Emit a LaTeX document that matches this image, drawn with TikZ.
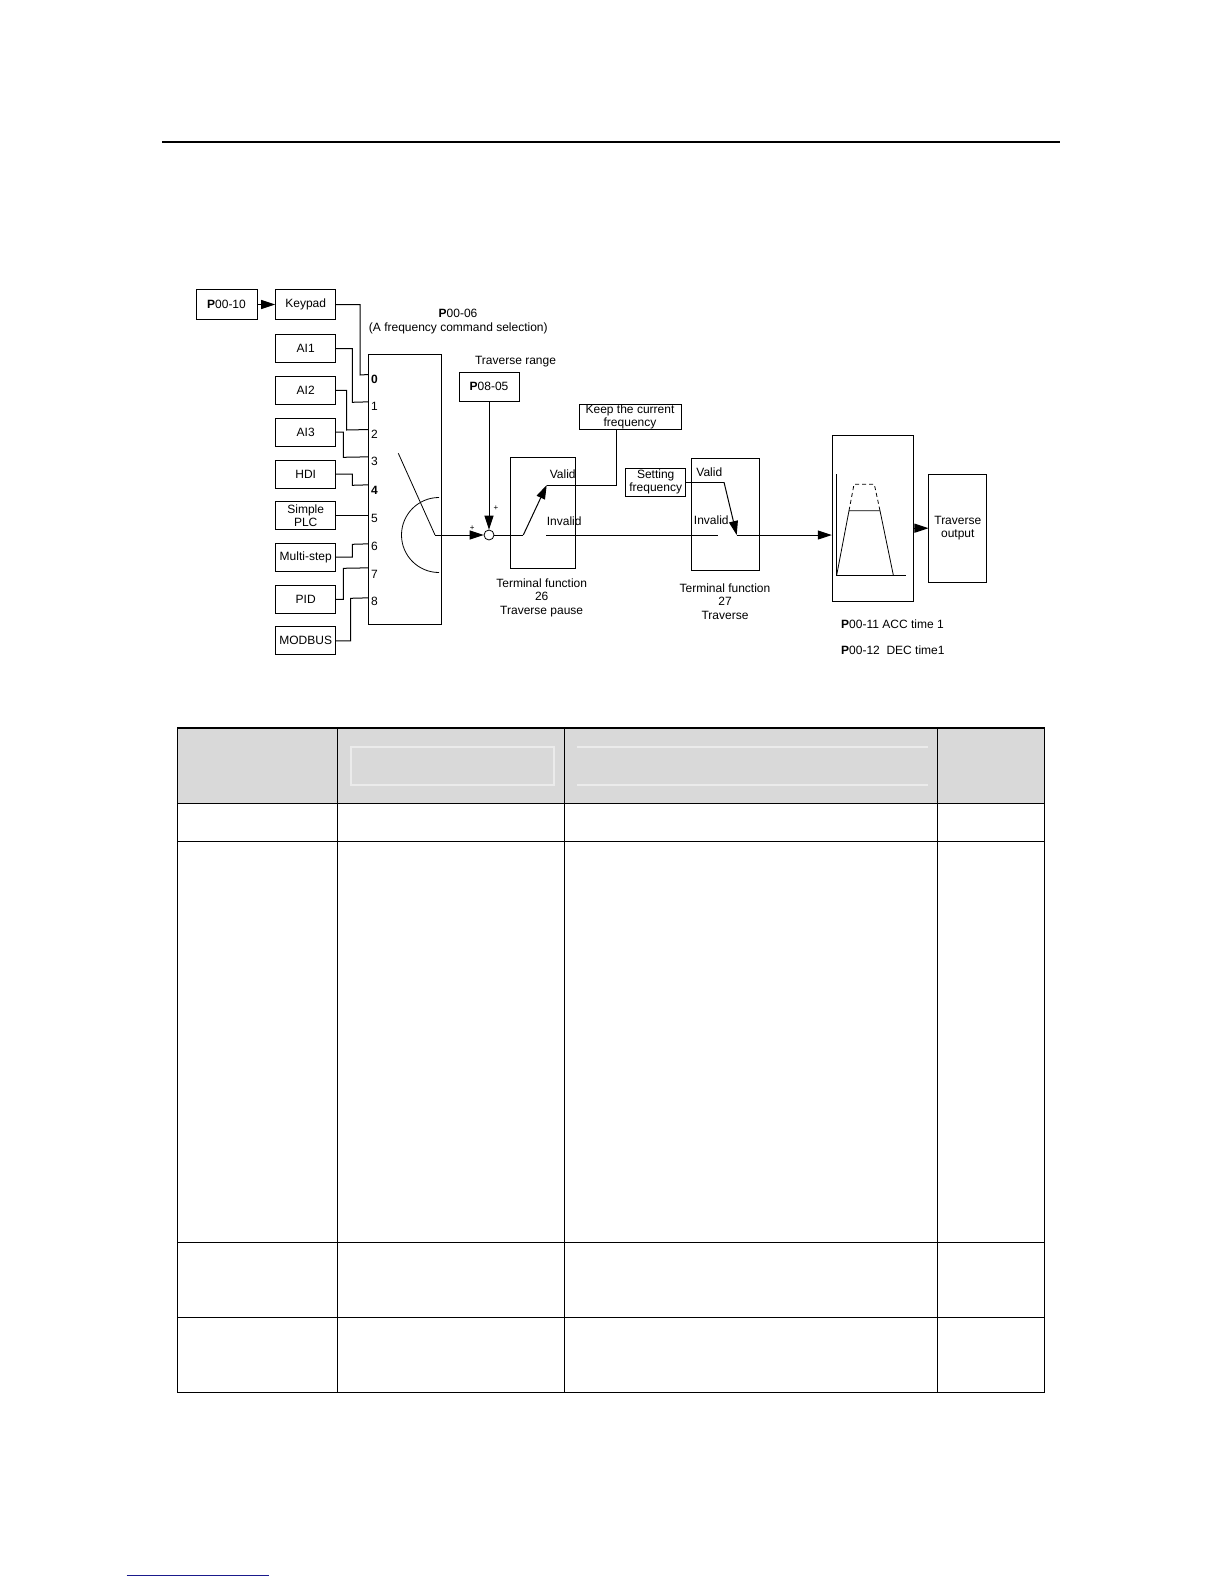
\documentclass[tikz,border=0pt]{standalone}
\usepackage{fontspec}
\setmainfont{Liberation Sans}
\usetikzlibrary{arrows.meta,calc}
\definecolor{hdrgray}{HTML}{D9D9D9}
\definecolor{hdrline}{HTML}{EBEBEB}
\definecolor{linkblue}{HTML}{1A1A8C}
\tikzset{
  lbl/.style={inner sep=0pt, font=\fontsize{12}{13.6}\selectfont, align=center},
  blk/.style={draw, line width=1pt, inner sep=0pt, font=\fontsize{12}{13.6}\selectfont, align=center},
  wire/.style={line width=1pt},
  arr/.style={line width=1pt, -{Triangle[length=14pt,width=9pt]}},
  tline/.style={line width=1.3pt},
}
\begin{document}
\begin{tikzpicture}[x=1pt,y=-1pt]
\useasboundingbox (0,0) rectangle (1224,1584);
\fill[white] (0,0) rectangle (1224,1584);

% top rule
\coordinate (rl) at (162,142);
\coordinate (rr) at (1060,142);
\draw[line width=2pt] (rl) -- (rr);

% ---------- source boxes ----------
\node[blk, minimum width=61, minimum height=30] (p0010) at (226.5,304.5) {\textbf{P}00-10};
\node[blk, minimum width=60, minimum height=30] (keypad) at (305.7,304.5) {Keypad};
\node[blk, minimum width=60, minimum height=28] (ai1) at (305.7,348.7) {AI1};
\node[blk, minimum width=60, minimum height=28] (ai2) at (305.7,390.3) {AI2};
\node[blk, minimum width=60, minimum height=28] (ai3) at (305.7,432) {AI3};
\node[blk, minimum width=60, minimum height=28] (hdi) at (305.7,474.2) {HDI};
\node[blk, minimum width=60, minimum height=28, font=\fontsize{12}{13}\selectfont] (plc) at (305.7,515.8) {Simple\\PLC};
\node[blk, minimum width=60, minimum height=28] (multi) at (305.7,557.2) {Multi-step};
\node[blk, minimum width=60, minimum height=28] (pid) at (305.7,599.3) {PID};
\node[blk, minimum width=60, minimum height=28] (modbus) at (305.7,640.8) {MODBUS};

\draw[arr] (p0010) -- (keypad);

% ---------- selector ----------
\node[blk, minimum width=72.7, minimum height=270.3] (sel) at (404.7,489.2) {};
\node[lbl] (t0606) at (458,313.3) {\textbf{P}00-06};
\node[lbl] (tsel) at (458.3,328.3) {(A frequency command selection)};

\path (sel.north west) ++(0,21)    coordinate (s0);
\path (sel.north west) ++(0,48.3)  coordinate (s1);
\path (sel.north west) ++(0,76)    coordinate (s2);
\path (sel.north west) ++(0,103.3) coordinate (s3);
\path (sel.north west) ++(0,131.3) coordinate (s4);
\path (sel.north west) ++(0,190.3) coordinate (s6);
\path (sel.north west) ++(0,214.3) coordinate (s7);
\path (sel.north west) ++(0,244.3) coordinate (s8);

\draw[wire] (keypad.east) -| (360,375) -- (s0);
\draw[wire] (ai1.east) -| (352.3,402.3) -- (s1);
\draw[wire] (ai2.east) -| (346.7,430) -- (s2);
\draw[wire] (ai3.east) -| (343.3,457.3) -- (s3);
\draw[wire] (hdi.east) -| (352.3,485.3) -- (s4);
\draw[wire] (plc.east) -- (plc.east -| sel.west);
\draw[wire] (multi.east) -| (352.3,544.3) -- (s6);
\draw[wire] (pid.east) -| (343.3,568.3) -- (s7);
\draw[wire] (modbus.east) -| (350.7,598.3) -- (s8);

\node[lbl, anchor=west] (n0) at (371,379) {\textbf{0}};
\node[lbl, anchor=west] (n1) at (371,406.7) {1};
\node[lbl, anchor=west] (n2) at (371,434) {2};
\node[lbl, anchor=west] (n3) at (371,461.7) {3};
\node[lbl, anchor=west] (n4) at (371,490) {\textbf{4}};
\node[lbl, anchor=west] (n5) at (371,518) {5};
\node[lbl, anchor=west] (n6) at (371,546) {6};
\node[lbl, anchor=west] (n7) at (371,574) {7};
\node[lbl, anchor=west] (n8) at (371,601.7) {8};

% switch
\coordinate (swtop) at (398.3,453.3);
\coordinate (pivot) at (435,535);
\draw[line width=0.8pt] (swtop) -- (pivot);
\draw[line width=0.8pt] (439,572.5) arc[start angle=90, end angle=270, radius=37.5];

% summing point
\node[circle, draw, line width=0.8pt, minimum size=10pt, inner sep=0pt] (sum) at (489,535) {};
\node[blk, minimum width=60, minimum height=28.7] (p0805) at (489,386.7) {\textbf{P}08-05};
\node[lbl] (trange) at (515.5,361.7) {Traverse range};
\draw[arr] (pivot) -- (sum.west);
\draw[arr] (p0805.south) -- (sum.north);
\node[inner sep=0pt, font=\fontsize{8}{8}\selectfont] (plus1) at (472.3,528.3) {+};
\node[inner sep=0pt, font=\fontsize{8}{8}\selectfont] (plus2) at (496,508.3) {+};

% terminal 26
\node[blk, minimum width=65, minimum height=111] (t26) at (542.5,512.8) {};
\node[blk, minimum width=102, minimum height=25.3, font=\fontsize{12}{12.7}\selectfont] (keep) at (630,416.7) {Keep the current\\frequency};
\coordinate (k26) at (523.3,535);
\coordinate (v26) at (546.7,485);
\coordinate (i26) at (546,535);
\draw[wire] (sum.east) -- (k26);
\draw[arr] (k26) -- (v26);
\draw[wire] (v26) -| ($(keep.south west)+(37.7,0)$);
\node[lbl] (valid26) at (562.7,474) {Valid};
\node[lbl] (inv26) at (564.2,521.7) {Invalid};
\node[lbl] (cap26) at (541.7,597.5) {Terminal function\\26\\Traverse pause};

% terminal 27
\node[blk, minimum width=68.3, minimum height=111.7] (t27) at (725.2,514.2) {};
\node[blk, minimum width=60, minimum height=27.7, font=\fontsize{12}{13}\selectfont] (setf) at (655.7,482.2) {Setting\\frequency};
\coordinate (e27) at (717.7,535);
\coordinate (b27) at (724,482.2);
\coordinate (o27) at (736.7,535);
\draw[wire] (i26) -- (e27);
\draw[wire] (setf.east) -- (b27);
\draw[arr] (b27) -- (o27);
\node[lbl] (valid27) at (709.3,472.3) {Valid};
\node[lbl] (inv27) at (711.3,520) {Invalid};
\node[lbl] (cap27) at (725,601.7) {Terminal function\\27\\Traverse};

% ramp block
\node[blk, minimum width=81, minimum height=165.7] (ramp) at (872.8,518.8) {};
\node[blk, minimum width=57.7, minimum height=108.3, font=\fontsize{12}{13}\selectfont] (out) at (957.8,528.2) {Traverse\\output};
\draw[arr] (o27) -- (o27 -| ramp.west);
\draw[arr] (ramp.east |- out.west) -- (out.west);

% ramp graph
\draw[line width=0.8pt] (836.7,474.3) -- (836.7,575) -- (906,575);
\draw[line width=0.8pt] (836.7,575) -- (849,510.7) -- (880,510.7) -- (893.3,575);
\draw[line width=0.8pt, dashed, dash pattern=on 4pt off 3pt] (849,510.7) -- (854,484.3) -- (874.3,484.3) -- (880,510.7);

\node[lbl, anchor=west] (acc) at (841,624) {\textbf{P}00-11 ACC time 1};
\node[lbl, anchor=west] (dec) at (841,650.7) {\textbf{P}00-12\ \ DEC time1};

% ---------- table ----------
\coordinate (tnw) at (177.5,728.1);
\coordinate (tse) at (1044.3,1392.7);
\fill[hdrgray] (177.5,728.1) rectangle (1044.3,803.6);
\draw[hdrline, line width=1.2pt] (351,747) rectangle (554,785);
\draw[hdrline, line width=1.2pt] (577,747) -- (928,747);
\draw[hdrline, line width=1.2pt] (577,785) -- (928,785);
\draw[tline] (tnw) rectangle (tse);
\foreach \yy in {803.6,841.5,1242.3,1317.3} \draw[tline] (177.5,\yy) -- (1044.3,\yy);
\foreach \xx in {337.3,564.5,937.3} \draw[tline] (\xx,728.1) -- (\xx,1392.7);

% footer link line
\coordinate (fl) at (126.7,1575);
\coordinate (fr) at (269.3,1575);
\draw[linkblue, line width=1pt] (fl) -- (fr);
\end{tikzpicture}
\end{document}
